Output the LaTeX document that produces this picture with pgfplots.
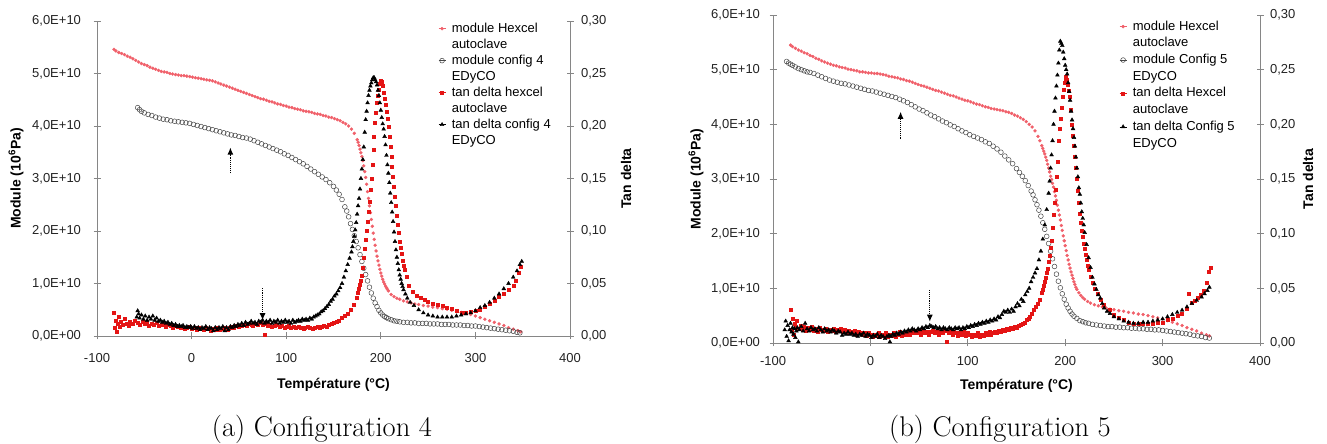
\documentclass[border=0pt]{standalone}
\usepackage{fontspec}
\usepackage{pgfplots}
\pgfplotsset{compat=1.18}
\usetikzlibrary{arrows.meta}
\newfontfamily\arial{Liberation Sans}
\definecolor{pinkc}{RGB}{240,96,106}
\definecolor{redc}{RGB}{228,20,20}
\definecolor{circc}{RGB}{70,70,70}
\definecolor{axgray}{RGB}{134,134,134}
\definecolor{txt}{RGB}{35,35,35}
\newcommand\tfont{\arial\fontsize{13}{15}\selectfont}
\newcommand\lfont{\arial\bfseries\fontsize{14}{16}\selectfont}
\pgfplotsset{
  dotlegend/.style={legend image code/.code={\path (-3.5pt,0pt) -- (3.5pt,0pt);\draw[##1,/tikz/only marks] plot coordinates {(0pt,0pt)};}},
  pinkm/.style={only marks, mark=*, mark size=1.5pt, color=pinkc, dotlegend},
  circm/.style={only marks, mark=o, mark size=2.4pt, color=circc, mark options={line width=0.5pt}, dotlegend},
  redsq/.style={only marks, mark=square*, mark size=1.5pt, color=redc, dotlegend},
  trim/.style={only marks, mark=triangle*, mark size=2.2pt, color=black, dotlegend},
  dmabase/.style={
    scale only axis, clip=false,
    xmin=-100, xmax=400,
    axis line style={axgray, line width=0.8pt, -},
    tick style={axgray, line width=0.8pt},
    major tick length=7pt,
    tick align=center,
    tick label style={font=\tfont, text=txt},
    label style={font=\lfont},
  },
  modaxis/.style={dmabase,
    axis y line*=left, axis x line*=bottom,
    ymin=0, ymax=6, ytick={0,1,2,3,4,5,6},
    yticklabels={{0,0E+00},{1,0E+10},{2,0E+10},{3,0E+10},{4,0E+10},{5,0E+10},{6,0E+10}},
    xtick={-100,0,100,200,300,400},
    xticklabels={-100,0,100,200,300,400},
    xlabel={Température (°C)},
    ylabel={Module (10\textsuperscript{6}Pa)},
  },
  tanaxis/.style={dmabase,
    axis y line*=right, axis x line=none,
    ymin=0, ymax=0.3, ytick={0,0.05,0.1,0.15,0.2,0.25,0.3},
    yticklabels={{0,00},{0,05},{0,10},{0,15},{0,20},{0,25},{0,30}},
    ylabel={Tan delta},
    legend cell align=left,
  },
}
\begin{document}
\begin{tikzpicture}
\path[use as bounding box] (0pt,0pt) rectangle (1327pt,444pt);
% ================= LEFT PANEL (a) =================
\begin{axis}[modaxis, at={(97pt,108pt)}, anchor=south west, width=473pt, height=315pt,
  yticklabel style={xshift=-9pt}, xticklabel style={yshift=-10pt},
  xlabel style={at={(axis description cs:0.5,0)}, anchor=center, yshift=-49pt},
  ylabel style={at={(axis description cs:0,0.5)}, anchor=center, yshift=81pt}]
% module Hexcel autoclave
\addplot[pinkm] coordinates {
(-82,5.46)(-80,5.43)(-77,5.40)(-74,5.38)(-71,5.36)(-68,5.33)(-65,5.31)(-62,5.28)(-59,5.25)(-56,5.22)(-53,5.19)(-50,5.17)(-47,5.15)(-44,5.12)(-41,5.10)(-38,5.08)(-35,5.06)(-32,5.04)(-29,5.03)(-26,5.02)(-23,5.00)(-20,4.99)(-17,4.98)(-14,4.97)(-11,4.96)(-8,4.96)(-5,4.95)(-2,4.94)(1,4.93)(4,4.92)(7,4.91)(10,4.90)(13,4.89)(16,4.88)(19,4.87)(22,4.86)(25,4.84)(28,4.82)(31,4.80)(34,4.78)(37,4.76)(40,4.74)(43,4.72)(46,4.70)(49,4.68)(52,4.66)(55,4.64)(58,4.62)(61,4.60)(64,4.58)(67,4.56)(70,4.54)(73,4.52)(76,4.51)(79,4.49)(82,4.47)(85,4.46)(88,4.44)(91,4.42)(94,4.41)(97,4.39)(100,4.38)(103,4.36)(106,4.35)(109,4.33)(112,4.32)(115,4.31)(118,4.29)(121,4.28)(124,4.27)(127,4.26)(130,4.24)(133,4.23)(136,4.22)(139,4.20)(142,4.19)(145,4.17)(148,4.16)(151,4.14)(154,4.12)(157,4.10)(160,4.07)(163,4.04)(166,4.00)(169,3.94)(172,3.86)(175,3.74)(176,3.69)(177,3.63)(178,3.56)(179,3.49)(180,3.42)(181,3.34)(182,3.24)(183,3.13)(184,3.02)(185,2.89)(186,2.75)(187,2.62)(188,2.48)(189,2.35)(190,2.22)(191,2.09)(192,1.96)(193,1.84)(194,1.73)(195,1.62)(196,1.52)(197,1.43)(198,1.35)(199,1.27)(200,1.20)(201,1.14)(202,1.08)(203,1.03)(204,0.99)(205,0.95)(206,0.92)(207,0.89)(208,0.86)(211,0.79)(214,0.75)(217,0.72)(220,0.70)(224,0.67)(228,0.65)(232,0.63)(236,0.61)(240,0.60)(245,0.58)(250,0.57)(255,0.55)(260,0.54)(265,0.52)(270,0.51)(275,0.49)(280,0.47)(285,0.45)(290,0.43)(295,0.41)(300,0.38)(305,0.35)(310,0.32)(315,0.29)(320,0.26)(325,0.23)(330,0.20)(335,0.16)(340,0.13)(345,0.10)(348,0.08)
};
% module config 4 EDyCO
\addplot[circm] coordinates {
(-57,4.35)(-55,4.31)(-53,4.28)(-50,4.25)(-46,4.22)(-42,4.20)(-38,4.17)(-34,4.15)(-30,4.13)(-26,4.12)(-22,4.10)(-18,4.09)(-14,4.08)(-10,4.07)(-6,4.06)(-2,4.05)(2,4.03)(6,4.01)(10,3.99)(14,3.97)(18,3.95)(22,3.93)(26,3.91)(30,3.89)(34,3.87)(38,3.85)(42,3.83)(46,3.82)(50,3.80)(54,3.78)(58,3.77)(62,3.75)(66,3.72)(70,3.69)(74,3.66)(78,3.63)(82,3.60)(86,3.57)(90,3.54)(94,3.51)(98,3.47)(102,3.44)(106,3.40)(110,3.36)(114,3.32)(118,3.28)(122,3.23)(126,3.18)(130,3.13)(134,3.08)(138,3.03)(142,2.98)(146,2.92)(150,2.85)(153,2.78)(156,2.70)(159,2.60)(162,2.46)(164,2.38)(166,2.27)(168,2.14)(170,2.03)(172,1.91)(174,1.80)(176,1.68)(178,1.55)(180,1.42)(182,1.29)(184,1.17)(186,1.05)(188,0.93)(190,0.82)(192,0.72)(194,0.63)(196,0.56)(198,0.49)(200,0.44)(202,0.40)(204,0.37)(206,0.35)(208,0.33)(211,0.31)(214,0.29)(217,0.28)(220,0.27)(224,0.26)(228,0.26)(232,0.25)(236,0.25)(240,0.24)(244,0.24)(248,0.24)(252,0.23)(256,0.23)(260,0.23)(264,0.22)(268,0.22)(272,0.22)(276,0.21)(280,0.21)(284,0.21)(288,0.20)(292,0.20)(296,0.19)(300,0.19)(304,0.18)(308,0.17)(312,0.16)(316,0.15)(320,0.14)(324,0.13)(328,0.12)(332,0.11)(336,0.10)(340,0.09)(344,0.07)(347,0.06)
};
\draw[densely dotted, line width=1.1pt, -{Latex[length=7pt,width=6pt]}] (axis cs:41,3.10) -- (axis cs:41,3.59);
\draw[densely dotted, line width=1.1pt, -{Latex[length=7pt,width=6pt]}] (axis cs:75,0.91) -- (axis cs:75,0.30);
\end{axis}
\begin{axis}[tanaxis, at={(97pt,108pt)}, anchor=south west, width=473pt, height=315pt,
  yticklabel style={xshift=4pt},
  ylabel style={at={(axis description cs:1,0.5)}, anchor=center, yshift=-56pt},
  legend style={draw=none, fill=none, inner sep=0pt, at={(0.7213,0.997)}, anchor=north west,
    font=\tfont, nodes={inner sep=0pt, text height=10pt, text depth=3pt}, row sep=3pt, column sep=6pt}]
% tan delta hexcel autoclave
\addplot[redsq, forget plot] coordinates {
(-82,0.022)(-81,0.008)(-80,0.015)(-79,0.004)(-78,0.012)(-77,0.018)(-76,0.009)(-75,0.014)(-73,0.011)(-71,0.016)(-69,0.012)(-67,0.010)(-65,0.014)(-62,0.012)(-60,0.015)(-57,0.013)(-55,0.011)(-52,0.014)(-50,0.012)(-47,0.013)(-45,0.010)(-42,0.012)(-40,0.011)(-37,0.013)(-35,0.010)(-32,0.011)(-30,0.012)(-27,0.009)(-25,0.011)(-22,0.010)(-20,0.008)(-17,0.010)(-15,0.009)(-12,0.008)(-10,0.009)(-7,0.007)(-5,0.008)(-2,0.009)(0,0.007)(3,0.008)(5,0.006)(8,0.008)(10,0.007)(13,0.006)(15,0.008)(18,0.007)(20,0.005)(23,0.007)(25,0.006)(28,0.008)(30,0.006)(33,0.007)(35,0.008)(38,0.006)(40,0.008)(43,0.009)(45,0.008)(48,0.010)(50,0.009)(53,0.010)(55,0.011)(58,0.010)(60,0.012)(63,0.011)(65,0.010)(68,0.012)(70,0.011)(73,0.013)(75,0.011)(77,0.001)(78,0.012)(80,0.010)(83,0.011)(85,0.009)(88,0.010)(90,0.011)(93,0.009)(95,0.010)(98,0.008)(100,0.009)(103,0.010)(105,0.008)(108,0.009)(110,0.008)(113,0.009)(115,0.008)(118,0.007)(120,0.008)(123,0.009)(125,0.008)(128,0.007)(130,0.008)(133,0.009)(135,0.008)(138,0.009)(140,0.010)(143,0.009)(145,0.011)(148,0.012)(150,0.013)(153,0.014)(156,0.015)(159,0.017)(162,0.019)(165,0.021)(168,0.025)(171,0.030)(174,0.036)(176,0.041)(177,0.045)(178,0.049)(179,0.053)(180,0.057)(181,0.065)(182,0.075)(183,0.083)(184,0.092)(185,0.100)(186,0.109)(187,0.118)(188,0.128)(189,0.139)(190,0.150)(191,0.163)(192,0.177)(193,0.190)(194,0.203)(195,0.213)(196,0.222)(197,0.229)(198,0.235)(199,0.240)(200,0.243)(201,0.242)(202,0.238)(203,0.232)(204,0.226)(205,0.220)(206,0.214)(207,0.207)(208,0.199)(209,0.190)(210,0.180)(211,0.171)(212,0.161)(213,0.152)(214,0.142)(215,0.133)(216,0.124)(217,0.115)(218,0.106)(219,0.098)(220,0.090)(221,0.084)(222,0.078)(223,0.072)(224,0.067)(225,0.063)(227,0.056)(230,0.048)(234,0.042)(238,0.038)(242,0.036)(246,0.035)(250,0.033)(255,0.031)(260,0.030)(265,0.029)(270,0.027)(275,0.026)(280,0.024)(285,0.022)(290,0.022)(295,0.023)(300,0.024)(305,0.025)(310,0.028)(315,0.031)(320,0.034)(325,0.037)(330,0.040)(335,0.044)(340,0.048)(343,0.053)(346,0.060)(348,0.066)
};
% tan delta config 4 EDyCO
\addplot[trim, forget plot] coordinates {
(-58,0.018)(-57,0.024)(-56,0.021)(-55,0.017)(-53,0.020)(-51,0.016)(-49,0.019)(-47,0.015)(-45,0.018)(-43,0.016)(-41,0.019)(-39,0.015)(-37,0.017)(-35,0.014)(-33,0.015)(-31,0.013)(-29,0.014)(-27,0.012)(-25,0.013)(-23,0.011)(-21,0.012)(-19,0.010)(-17,0.011)(-15,0.009)(-13,0.010)(-11,0.009)(-9,0.010)(-7,0.008)(-5,0.009)(-3,0.008)(-1,0.009)(1,0.007)(3,0.009)(5,0.007)(7,0.008)(9,0.006)(11,0.008)(13,0.007)(15,0.009)(17,0.006)(19,0.008)(21,0.007)(23,0.005)(25,0.008)(27,0.006)(29,0.008)(31,0.007)(33,0.009)(35,0.005)(37,0.008)(39,0.006)(41,0.009)(43,0.008)(45,0.010)(47,0.009)(49,0.011)(51,0.010)(53,0.012)(55,0.010)(57,0.013)(59,0.011)(61,0.012)(63,0.014)(65,0.012)(67,0.013)(69,0.011)(71,0.014)(73,0.013)(75,0.015)(77,0.012)(79,0.014)(81,0.013)(83,0.015)(85,0.012)(87,0.014)(89,0.013)(91,0.015)(93,0.012)(95,0.014)(97,0.013)(99,0.015)(101,0.013)(103,0.014)(105,0.012)(107,0.015)(109,0.013)(111,0.014)(113,0.015)(115,0.014)(117,0.016)(119,0.015)(121,0.016)(123,0.015)(125,0.017)(127,0.016)(129,0.018)(131,0.019)(133,0.020)(135,0.021)(137,0.023)(139,0.024)(141,0.026)(143,0.028)(145,0.030)(147,0.033)(149,0.035)(151,0.038)(153,0.040)(155,0.043)(157,0.046)(159,0.050)(161,0.056)(163,0.062)(165,0.068)(167,0.074)(169,0.080)(170,0.085)(171,0.090)(172,0.095)(173,0.101)(174,0.108)(175,0.116)(176,0.124)(177,0.131)(178,0.140)(179,0.150)(180,0.159)(181,0.168)(182,0.180)(183,0.194)(184,0.206)(185,0.214)(186,0.222)(187,0.229)(188,0.234)(189,0.238)(190,0.241)(191,0.244)(192,0.246)(193,0.246)(194,0.244)(195,0.242)(196,0.239)(197,0.234)(198,0.229)(199,0.222)(200,0.215)(201,0.208)(202,0.202)(203,0.197)(204,0.190)(205,0.182)(206,0.172)(207,0.163)(208,0.155)(209,0.146)(210,0.136)(211,0.127)(212,0.118)(213,0.109)(214,0.099)(215,0.090)(216,0.082)(217,0.075)(218,0.069)(219,0.063)(220,0.058)(221,0.054)(222,0.050)(223,0.047)(224,0.044)(226,0.040)(228,0.036)(231,0.032)(235,0.029)(240,0.025)(245,0.022)(250,0.020)(255,0.019)(260,0.018)(265,0.018)(270,0.018)(275,0.018)(280,0.019)(285,0.020)(290,0.021)(295,0.022)(300,0.024)(305,0.027)(310,0.029)(315,0.032)(320,0.036)(325,0.040)(330,0.045)(335,0.050)(340,0.056)(344,0.062)(347,0.068)(349,0.071)
};
\addlegendimage{pinkm}\addlegendentry{module Hexcel}
\addlegendimage{empty legend}\addlegendentry{autoclave}
\addlegendimage{circm}\addlegendentry{module config 4}
\addlegendimage{empty legend}\addlegendentry{EDyCO}
\addlegendimage{redsq}\addlegendentry{tan delta hexcel}
\addlegendimage{empty legend}\addlegendentry{autoclave}
\addlegendimage{trim}\addlegendentry{tan delta config 4}
\addlegendimage{empty legend}\addlegendentry{EDyCO}
\end{axis}
% ================= RIGHT PANEL (b) =================
\begin{axis}[modaxis, at={(773pt,101pt)}, anchor=south west, width=487pt, height=328pt,
  yticklabel style={xshift=-6pt}, xticklabel style={yshift=-6.5pt},
  xlabel style={at={(axis description cs:0.5,0)}, anchor=center, yshift=-43pt},
  ylabel style={at={(axis description cs:0,0.5)}, anchor=center, yshift=77pt}]
\addplot[pinkm] coordinates {
(-82,5.45)(-80,5.42)(-77,5.39)(-74,5.36)(-71,5.34)(-68,5.31)(-65,5.29)(-62,5.26)(-59,5.24)(-56,5.21)(-53,5.19)(-50,5.16)(-47,5.14)(-44,5.12)(-41,5.10)(-38,5.08)(-35,5.07)(-32,5.05)(-29,5.04)(-26,5.03)(-23,5.01)(-20,5.00)(-17,4.99)(-14,4.98)(-11,4.96)(-8,4.96)(-5,4.95)(-2,4.94)(1,4.94)(4,4.93)(7,4.93)(10,4.92)(13,4.91)(16,4.90)(19,4.88)(22,4.87)(25,4.86)(28,4.85)(31,4.83)(34,4.82)(37,4.80)(40,4.79)(43,4.77)(46,4.75)(49,4.73)(52,4.71)(55,4.70)(58,4.68)(61,4.66)(64,4.64)(67,4.62)(70,4.61)(73,4.59)(76,4.57)(79,4.55)(82,4.53)(85,4.52)(88,4.50)(91,4.48)(94,4.46)(97,4.44)(100,4.43)(103,4.41)(106,4.39)(109,4.37)(112,4.36)(115,4.34)(118,4.32)(121,4.31)(124,4.29)(127,4.28)(130,4.27)(133,4.26)(136,4.25)(139,4.23)(142,4.22)(145,4.20)(148,4.17)(151,4.15)(154,4.12)(157,4.09)(160,4.05)(163,4.00)(166,3.95)(169,3.88)(172,3.78)(174,3.70)(176,3.61)(177,3.56)(178,3.51)(179,3.46)(180,3.40)(181,3.34)(182,3.27)(183,3.20)(184,3.13)(185,3.05)(186,2.99)(187,2.92)(188,2.85)(189,2.77)(190,2.69)(191,2.61)(192,2.52)(193,2.43)(194,2.34)(195,2.25)(196,2.15)(197,2.06)(198,1.96)(199,1.87)(200,1.78)(201,1.69)(202,1.60)(203,1.52)(204,1.44)(205,1.37)(206,1.30)(207,1.24)(208,1.18)(209,1.12)(210,1.07)(211,1.02)(212,0.98)(214,0.92)(216,0.87)(218,0.83)(220,0.80)(223,0.76)(226,0.73)(230,0.70)(234,0.68)(238,0.66)(242,0.64)(246,0.62)(250,0.61)(255,0.59)(260,0.58)(265,0.56)(270,0.55)(275,0.53)(280,0.52)(285,0.50)(290,0.48)(295,0.46)(300,0.44)(305,0.41)(310,0.38)(315,0.35)(320,0.32)(325,0.28)(330,0.25)(335,0.22)(340,0.18)(345,0.15)(348,0.13)
};
\addplot[circm] coordinates {
(-86,5.15)(-84,5.12)(-82,5.10)(-80,5.08)(-77,5.05)(-74,5.02)(-71,5.00)(-68,4.98)(-65,4.96)(-62,4.95)(-58,4.93)(-54,4.90)(-50,4.87)(-46,4.84)(-42,4.81)(-38,4.79)(-34,4.77)(-30,4.75)(-26,4.74)(-22,4.72)(-18,4.70)(-14,4.68)(-10,4.66)(-6,4.64)(-2,4.62)(2,4.61)(6,4.59)(10,4.57)(14,4.55)(18,4.53)(22,4.51)(26,4.49)(30,4.46)(34,4.43)(38,4.40)(42,4.36)(46,4.32)(50,4.28)(54,4.25)(58,4.21)(62,4.17)(66,4.14)(70,4.10)(74,4.06)(78,4.03)(82,3.99)(86,3.96)(90,3.92)(94,3.88)(98,3.85)(102,3.81)(106,3.78)(110,3.75)(114,3.72)(118,3.68)(122,3.65)(126,3.60)(130,3.55)(134,3.49)(138,3.42)(142,3.35)(146,3.28)(150,3.19)(153,3.12)(156,3.05)(159,2.97)(162,2.88)(165,2.78)(167,2.71)(169,2.62)(171,2.53)(173,2.43)(175,2.32)(177,2.20)(179,2.08)(181,1.95)(183,1.82)(185,1.68)(187,1.54)(189,1.40)(191,1.26)(193,1.13)(195,1.01)(197,0.90)(199,0.80)(201,0.71)(203,0.64)(205,0.58)(207,0.53)(209,0.49)(212,0.45)(215,0.41)(218,0.39)(221,0.37)(224,0.36)(228,0.34)(232,0.33)(236,0.32)(240,0.31)(244,0.30)(248,0.30)(252,0.29)(256,0.29)(260,0.28)(264,0.28)(268,0.27)(272,0.27)(276,0.26)(280,0.26)(284,0.25)(288,0.25)(292,0.24)(296,0.24)(300,0.23)(304,0.22)(308,0.21)(312,0.20)(316,0.19)(320,0.18)(324,0.17)(328,0.16)(332,0.14)(336,0.13)(340,0.12)(344,0.10)(348,0.09)
};
\draw[densely dotted, line width=1.1pt, -{Latex[length=7pt,width=6pt]}] (axis cs:31,3.74) -- (axis cs:31,4.23);
\draw[densely dotted, line width=1.1pt, -{Latex[length=7pt,width=6pt]}] (axis cs:61,0.97) -- (axis cs:61,0.39);
\end{axis}
\begin{axis}[tanaxis, at={(773pt,101pt)}, anchor=south west, width=487pt, height=328pt,
  yticklabel style={xshift=3pt},
  ylabel style={at={(axis description cs:1,0.5)}, anchor=center, yshift=-48pt},
  legend style={draw=none, fill=none, inner sep=0pt, at={(0.7109,0.985)}, anchor=north west,
    font=\tfont, nodes={inner sep=0pt, text height=10pt, text depth=3pt}, row sep=3.7pt, column sep=6pt}]
\addplot[redsq, forget plot] coordinates {
(-82,0.030)(-81,0.012)(-80,0.022)(-79,0.008)(-78,0.018)(-77,0.014)(-76,0.020)(-74,0.013)(-72,0.016)(-70,0.012)(-68,0.015)(-66,0.011)(-64,0.014)(-62,0.012)(-60,0.015)(-58,0.011)(-56,0.013)(-54,0.010)(-52,0.014)(-50,0.012)(-48,0.011)(-46,0.013)(-44,0.010)(-42,0.012)(-40,0.011)(-38,0.013)(-36,0.010)(-34,0.012)(-32,0.011)(-30,0.013)(-28,0.010)(-26,0.012)(-24,0.009)(-22,0.011)(-20,0.010)(-18,0.009)(-16,0.011)(-14,0.008)(-12,0.010)(-10,0.009)(-8,0.008)(-6,0.009)(-4,0.007)(-2,0.009)(0,0.008)(2,0.006)(4,0.008)(6,0.007)(8,0.009)(10,0.006)(12,0.008)(14,0.007)(16,0.009)(18,0.006)(20,0.008)(22,0.007)(24,0.009)(26,0.006)(28,0.008)(30,0.010)(32,0.007)(34,0.009)(36,0.008)(38,0.010)(40,0.008)(42,0.010)(44,0.009)(46,0.011)(48,0.009)(50,0.010)(52,0.008)(54,0.011)(56,0.009)(58,0.010)(60,0.008)(62,0.010)(64,0.011)(66,0.009)(68,0.010)(70,0.008)(72,0.010)(74,0.009)(76,0.011)(78,0.001)(80,0.009)(82,0.010)(84,0.008)(86,0.010)(88,0.009)(90,0.007)(92,0.009)(94,0.008)(96,0.010)(98,0.007)(100,0.009)(102,0.008)(104,0.006)(106,0.008)(108,0.007)(110,0.009)(112,0.006)(114,0.008)(116,0.007)(118,0.009)(120,0.008)(122,0.010)(124,0.008)(126,0.009)(128,0.010)(130,0.009)(132,0.011)(134,0.010)(136,0.012)(138,0.011)(140,0.013)(142,0.012)(144,0.014)(146,0.013)(148,0.015)(150,0.014)(152,0.016)(154,0.017)(156,0.018)(158,0.019)(160,0.021)(162,0.022)(164,0.024)(166,0.027)(168,0.030)(170,0.033)(172,0.036)(174,0.040)(176,0.046)(177,0.049)(178,0.052)(179,0.056)(180,0.060)(181,0.064)(182,0.068)(183,0.074)(184,0.080)(185,0.087)(186,0.094)(187,0.105)(188,0.117)(189,0.128)(190,0.140)(191,0.152)(192,0.166)(193,0.185)(194,0.196)(195,0.205)(196,0.215)(197,0.225)(198,0.232)(199,0.238)(200,0.242)(201,0.244)(202,0.241)(203,0.236)(204,0.231)(205,0.225)(206,0.213)(207,0.200)(208,0.190)(209,0.180)(210,0.170)(211,0.160)(212,0.150)(213,0.139)(214,0.128)(215,0.118)(216,0.110)(217,0.103)(218,0.097)(219,0.091)(220,0.086)(221,0.081)(222,0.076)(223,0.071)(224,0.067)(226,0.061)(228,0.055)(230,0.050)(233,0.045)(236,0.040)(240,0.035)(246,0.030)(250,0.026)(255,0.023)(260,0.021)(265,0.019)(270,0.018)(275,0.018)(280,0.018)(285,0.018)(290,0.018)(295,0.019)(300,0.019)(305,0.021)(310,0.022)(315,0.025)(320,0.027)(325,0.031)(327,0.045)(330,0.037)(333,0.039)(336,0.041)(339,0.044)(342,0.048)(345,0.055)(347,0.065)(349,0.069)
};
\addplot[trim, forget plot] coordinates {
(-88,0.012)(-87,0.020)(-86,0.006)(-85,0.016)(-84,0.002)(-83,0.012)(-82,0.018)(-81,0.010)(-80,0.014)(-79,0.008)(-78,0.013)(-77,0.005)(-76,0.011)(-75,0.014)(-74,0.001)(-73,0.012)(-71,0.015)(-69,0.011)(-67,0.018)(-65,0.013)(-63,0.011)(-61,0.014)(-59,0.012)(-57,0.013)(-55,0.011)(-53,0.014)(-51,0.012)(-49,0.010)(-47,0.013)(-45,0.011)(-43,0.012)(-41,0.010)(-39,0.012)(-37,0.011)(-35,0.009)(-33,0.011)(-31,0.010)(-29,0.007)(-27,0.009)(-25,0.008)(-23,0.010)(-21,0.008)(-19,0.009)(-17,0.007)(-15,0.008)(-13,0.006)(-11,0.008)(-9,0.007)(-7,0.009)(-5,0.006)(-3,0.008)(-1,0.007)(1,0.005)(3,0.007)(5,0.006)(7,0.008)(9,0.005)(11,0.007)(13,0.006)(15,0.004)(17,0.006)(19,0.007)(20,0.001)(21,0.006)(23,0.008)(25,0.007)(27,0.009)(29,0.008)(31,0.010)(33,0.009)(35,0.011)(37,0.010)(39,0.012)(41,0.011)(43,0.013)(45,0.012)(47,0.011)(49,0.013)(51,0.012)(53,0.014)(55,0.013)(57,0.015)(59,0.014)(61,0.016)(63,0.015)(65,0.014)(67,0.015)(69,0.013)(71,0.014)(73,0.012)(75,0.014)(77,0.013)(79,0.012)(81,0.014)(83,0.013)(85,0.012)(87,0.014)(89,0.013)(91,0.014)(93,0.012)(95,0.014)(97,0.013)(99,0.015)(101,0.014)(103,0.016)(105,0.015)(107,0.017)(109,0.016)(111,0.018)(113,0.017)(115,0.019)(117,0.018)(119,0.020)(121,0.019)(123,0.021)(125,0.020)(127,0.022)(129,0.021)(131,0.024)(133,0.023)(135,0.026)(137,0.029)(139,0.028)(141,0.030)(143,0.028)(145,0.031)(147,0.029)(149,0.033)(151,0.036)(153,0.034)(155,0.040)(157,0.038)(159,0.044)(161,0.047)(163,0.050)(165,0.056)(167,0.060)(169,0.064)(171,0.068)(173,0.076)(175,0.084)(177,0.095)(179,0.108)(181,0.122)(183,0.137)(184,0.148)(185,0.160)(186,0.172)(187,0.185)(188,0.200)(189,0.212)(190,0.224)(191,0.235)(192,0.245)(193,0.256)(194,0.268)(195,0.276)(196,0.274)(197,0.272)(198,0.266)(199,0.260)(200,0.254)(201,0.250)(202,0.246)(203,0.238)(204,0.230)(205,0.222)(206,0.212)(207,0.204)(208,0.196)(209,0.188)(210,0.180)(211,0.170)(212,0.160)(213,0.152)(214,0.142)(215,0.136)(216,0.128)(217,0.120)(218,0.114)(219,0.108)(220,0.101)(222,0.090)(224,0.078)(226,0.069)(228,0.060)(230,0.054)(232,0.049)(234,0.044)(236,0.041)(238,0.036)(240,0.032)(243,0.029)(246,0.027)(250,0.024)(255,0.022)(260,0.020)(265,0.019)(270,0.018)(275,0.018)(280,0.019)(285,0.019)(290,0.020)(295,0.021)(300,0.022)(305,0.024)(310,0.026)(315,0.028)(320,0.030)(325,0.033)(330,0.036)(335,0.039)(340,0.042)(343,0.045)(346,0.048)(348,0.051)
};
\addlegendimage{pinkm}\addlegendentry{module Hexcel}
\addlegendimage{empty legend}\addlegendentry{autoclave}
\addlegendimage{circm}\addlegendentry{module Config 5}
\addlegendimage{empty legend}\addlegendentry{EDyCO}
\addlegendimage{redsq}\addlegendentry{tan delta Hexcel}
\addlegendimage{empty legend}\addlegendentry{autoclave}
\addlegendimage{trim}\addlegendentry{tan delta Config 5}
\addlegendimage{empty legend}\addlegendentry{EDyCO}
\end{axis}
% captions
\node[anchor=base, font=\fontsize{28.5}{32}\selectfont] at (322pt,7pt) {(a) Configuration 4};
\node[anchor=base, font=\fontsize{28.5}{32}\selectfont] at (1000pt,7pt) {(b) Configuration 5};
\end{tikzpicture}
\end{document}
